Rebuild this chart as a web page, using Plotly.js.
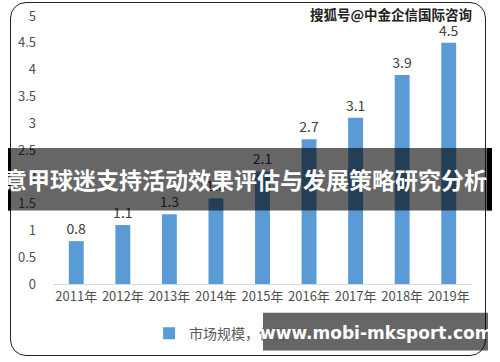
<!DOCTYPE html>
<html><head><meta charset="utf-8">
<script src="https://cdn.plot.ly/plotly-3.0.1.min.js"></script>
<style>
html,body{margin:0;padding:0;background:#fff;}
#wrap{position:relative;width:500px;height:362px;overflow:hidden;}
#frame{position:absolute;left:10px;top:2px;width:476px;height:354px;border:1.5px solid #222;border-radius:16px;box-sizing:border-box;}
#chart{position:absolute;left:0;top:0;width:500px;height:362px;}
</style></head>
<body><div id="wrap"><div id="frame"></div><div id="chart"></div></div>
<script>
const years = ['2011年','2012年','2013年','2014年','2015年','2016年','2017年','2018年','2019年'];
const marketSize = [0.8, 1.1, 1.3, 1.6, 2.1, 2.7, 3.1, 3.9, 4.5];
const seriesName = '市场规模，亿元';
const bannerTitle = '意甲球迷支持活动效果评估与发展策略研究分析';
const watermark = '搜狐号@中金企信国际咨询';
const siteText = 'www.mobi-mksport.com';

const W = 500, H = 362, L = 53, R = 28, T = 16, B = 76;
const pw = W - L - R, ph = H - T - B;
const px = x => (x - L) / pw;
const py = y => 1 - (y - T) / ph;
const cjk = '"Noto Sans CJK SC", "Noto Sans", sans-serif';

const trace = {
  type: 'bar', x: years, y: marketSize, name: seriesName,
  marker: {color: '#5B9BD5'},
  text: marketSize.map(v => v.toFixed(1)), textposition: 'outside',
  constraintext: 'none',
  textfont: {color: '#404040', size: 14, family: cjk},
  cliponaxis: false, showlegend: true
};

const layout = {
  width: W, height: H,
  margin: {l: L, r: R, t: T, b: B},
  paper_bgcolor: 'rgba(0,0,0,0)', plot_bgcolor: 'rgba(0,0,0,0)',
  bargap: 0.68,
  font: {family: cjk, color: '#595959', size: 12},
  xaxis: {showline: true, linecolor: '#D9D9D9', linewidth: 1, ticks: '', showgrid: false,
          tickfont: {size: 13, color: '#505050', family: cjk}, fixedrange: true},
  yaxis: {range: [0, 5], dtick: 0.5, showgrid: false, zeroline: false, showline: false,
          ticks: '', ticklabelstandoff: 16, tickfont: {size: 13, color: '#505050', family: cjk}},
  showlegend: true,
  legend: {orientation: 'h', x: 0.40, xanchor: 'center', y: py(336), yanchor: 'middle',
           font: {size: 14, color: '#595959', family: cjk}, bgcolor: 'rgba(0,0,0,0)'},
  shapes: [
    {type: 'rect', xref: 'paper', yref: 'paper', x0: px(8), x1: px(491), y0: py(149), y1: py(212),
     fillcolor: 'rgba(0,0,0,0.6)', line: {width: 0}, layer: 'above'},
    {type: 'rect', xref: 'paper', yref: 'paper', x0: px(8), x1: px(11), y0: py(149), y1: py(212),
     fillcolor: '#000', line: {width: 0}, layer: 'above'},
    {type: 'rect', xref: 'paper', yref: 'paper', x0: px(487), x1: px(492), y0: py(149), y1: py(212),
     fillcolor: '#000', line: {width: 0}, layer: 'above'},
    {type: 'rect', xref: 'paper', yref: 'paper', x0: px(263), x1: px(488), y0: py(315), y1: py(353),
     fillcolor: 'rgba(0,0,0,0.6)', line: {width: 0}, layer: 'above'}
  ],
  annotations: [
    {text: '<b>' + bannerTitle + '</b>', xref: 'paper', yref: 'paper', x: px(245), y: py(180),
     xanchor: 'center', yanchor: 'middle', showarrow: false,
     font: {size: 23, color: '#ffffff', family: cjk}},
    {text: '<b>' + siteText + '</b>', xref: 'paper', yref: 'paper', x: px(376), y: py(335),
     xanchor: 'center', yanchor: 'middle', showarrow: false,
     font: {size: 17, color: '#ffffff', family: '"DejaVu Sans", sans-serif'}},
    {text: '<b>' + watermark + '</b>', xref: 'paper', yref: 'paper', x: px(474), y: py(14),
     xanchor: 'right', yanchor: 'middle', showarrow: false,
     font: {size: 13.5, color: '#222222', family: cjk}}
  ]
};

Plotly.newPlot('chart', [trace], layout, {displayModeBar: false, staticPlot: true});
</script></body></html>
